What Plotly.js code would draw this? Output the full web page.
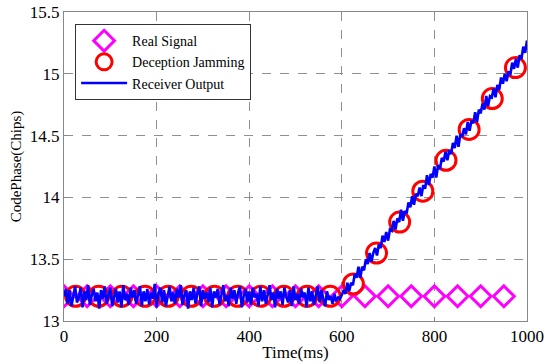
<!DOCTYPE html>
<html>
<head>
<meta charset="utf-8">
<script src="https://cdn.plot.ly/plotly-3.0.1.min.js"></script>
<style>html,body{margin:0;padding:0;background:#fff;}#chart{width:550px;height:364px;}</style>
</head>
<body>
<div id="chart"></div>
<script>
// Real Signal markers
var realT = [0,50,100,150,200,250,300,350,400,450,500,550,600,650,700,750,800,850,900,950];
var realY = [13.2,13.2,13.2,13.2,13.2,13.2,13.2,13.2,13.2,13.2,13.2,13.2,13.2,13.2,13.2,13.2,13.2,13.2,13.2,13.2];
// Deception Jamming markers
var jamT = [25,75,125,175,225,275,325,375,425,475,525,575,625,675,725,775,825,875,925,975];
var jamY = [13.2,13.2,13.2,13.2,13.2,13.2,13.2,13.2,13.2,13.2,13.2,13.2,13.3,13.55,13.8,14.05,14.3,14.55,14.8,15.05];
// Receiver Output, sampled every 4 ms from 0 to 1000 ms
var outStart = 0, outStep = 4;
var outY = [
13.20,13.26,13.14,13.25,13.12,13.22,13.28,13.15,13.19,13.27,13.11,13.24,13.17,13.29,13.13,13.21,13.26,13.16,13.23,13.10,
13.25,13.18,13.28,13.14,13.22,13.27,13.12,13.20,13.26,13.15,13.24,13.11,13.29,13.17,13.22,13.13,13.27,13.19,13.25,13.14,
13.21,13.28,13.12,13.24,13.16,13.26,13.13,13.23,13.18,13.30,13.11,13.22,13.27,13.15,13.25,13.12,13.20,13.28,13.16,13.23,
13.14,13.26,13.19,13.29,13.13,13.21,13.25,13.10,13.24,13.17,13.27,13.14,13.22,13.28,13.12,13.25,13.18,13.23,13.15,13.27,
13.11,13.24,13.19,13.26,13.13,13.22,13.29,13.16,13.21,13.12,13.27,13.18,13.25,13.14,13.23,13.28,13.11,13.20,13.26,13.15,
13.24,13.13,13.27,13.19,13.22,13.12,13.28,13.16,13.25,13.14,13.21,13.29,13.17,13.23,13.11,13.26,13.18,13.24,13.13,13.27,
13.20,13.15,13.25,13.12,13.28,13.17,13.22,13.14,13.26,13.19,13.23,13.11,13.27,13.16,13.24,13.13,13.21,13.28,13.15,13.25,
13.18,13.12,13.24,13.17,13.20,13.14,13.22,13.16,13.19,13.18,13.21,
13.25,13.22,13.31,13.24,13.31,13.29,13.38,13.35,13.44,13.35,13.44,13.41,13.50,13.46,13.55,13.48,13.55,13.59,13.53,13.62,
13.59,13.69,13.64,13.72,13.65,13.74,13.73,13.81,13.74,13.83,13.80,13.90,13.81,13.89,13.87,13.96,13.92,14.01,13.94,14.03,
14.01,14.08,14.01,14.10,14.07,14.18,14.10,14.19,14.16,14.25,14.16,14.26,14.23,14.32,14.29,14.37,14.30,14.38,14.35,14.44,
14.40,14.50,14.41,14.51,14.49,14.56,14.51,14.61,14.54,14.62,14.60,14.69,14.61,14.71,14.68,14.76,14.71,14.82,14.74,14.82,
14.81,14.88,14.81,14.91,14.87,14.97,14.92,15.00,14.94,15.02,14.99,15.09,15.04,15.12,15.05,15.15,15.12,15.22,15.17,15.27
];
var xTicks = [0,200,400,600,800,1000];
var yTicks = [13,13.5,14,14.5,15,15.5];
var yTickText = ['13','13.5','14','14.5','15','15.5'];

var serif = 'Liberation Serif';

var traces = [
  {x: realT, y: realY, type: 'scatter', mode: 'markers', name: 'Real Signal',
   marker: {symbol: 'diamond-open', size: 16, color: '#ff00ff', line: {width: 3, color: '#ff00ff'}}},
  {x: jamT, y: jamY, type: 'scatter', mode: 'markers', name: 'Deception Jamming',
   marker: {symbol: 'circle-open', size: 20, color: '#ff0000', line: {width: 3, color: '#ff0000'}}},
  {x0: outStart, dx: outStep, y: outY, type: 'scatter', mode: 'lines', name: 'Receiver Output',
   line: {color: '#0000ff', width: 2.6}}
];

var layout = {
  width: 550, height: 364,
  margin: {l: 64, r: 23, t: 12, b: 43},
  paper_bgcolor: '#fff', plot_bgcolor: '#fff',
  font: {family: serif, size: 17, color: '#000'},
  showlegend: true,
  legend: {x: 0.024, y: 0.961, xanchor: 'left', yanchor: 'top',
           bgcolor: '#fff', bordercolor: '#333', borderwidth: 1,
           font: {family: serif, size: 14, color: '#000'},
           tracegroupgap: 0, itemwidth: 46},
  xaxis: {range: [0, 1000], tickvals: xTicks, ticktext: xTicks.map(String),
          showgrid: true, gridcolor: '#909090', griddash: 'dash', gridwidth: 1,
          zeroline: false, showline: true, linecolor: '#888', linewidth: 1, mirror: true,
          ticks: 'inside', ticklen: 4, tickcolor: '#888',
          tickfont: {family: serif, size: 17, color: '#000'},
          title: {text: 'Time(ms)', font: {family: serif, size: 17, color: '#000'}, standoff: 0}},
  yaxis: {range: [13, 15.5], tickvals: yTicks, ticktext: yTickText,
          showgrid: true, gridcolor: '#909090', griddash: 'dash', gridwidth: 1,
          zeroline: false, showline: true, linecolor: '#888', linewidth: 1, mirror: true,
          ticks: 'inside', ticklen: 4, tickcolor: '#888',
          tickfont: {family: serif, size: 17, color: '#000'},
          title: {text: 'CodePhase(Chips)', font: {family: serif, size: 15, color: '#000'}, standoff: 4}}
};

Plotly.newPlot('chart', traces, layout, {displayModeBar: false, staticPlot: true});
</script>
</body>
</html>
